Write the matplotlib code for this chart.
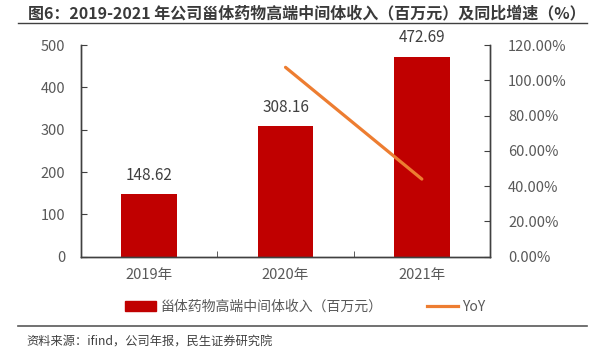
import matplotlib
matplotlib.use("Agg")
import matplotlib.pyplot as plt
from matplotlib.lines import Line2D
from matplotlib.patches import Patch

plt.rcParams["font.family"] = ["Noto Sans CJK SC", "DejaVu Sans"]

years = ["2019年", "2020年", "2021年"]
revenue = [148.62, 308.16, 472.69]
yoy_years = [1, 2]
yoy = [1.0735, 0.44]
left_ticks = [0, 100, 200, 300, 400, 500]
right_ticks = [0, 0.2, 0.4, 0.6, 0.8, 1.0, 1.2]

title = "图6：2019-2021 年公司甾体药物高端中间体收入（百万元）及同比增速（%）"
bar_name = "甾体药物高端中间体收入（百万元）"
line_name = "YoY"
source = "资料来源：ifind，公司年报，民生证券研究院"

RED = "#C00000"
ORANGE = "#ED7D31"
TICK_C = "#595959"
SPINE_C = "#404040"


def main():
    fig = plt.figure(figsize=(5.98, 3.55), dpi=100)
    ax = fig.add_axes([0.1355, 0.2769, 0.6839, 0.5963])
    ax2 = ax.twinx()

    x = list(range(len(years)))
    ax.bar(x, revenue, width=0.41, color=RED, zorder=2)
    for xi, v in zip(x, revenue):
        ax.annotate(f"{v:.2f}", (xi, v), xytext=(0, 13.5),
                    textcoords="offset points", ha="center", va="center",
                    fontsize=11, color="#404040")

    ax2.plot(yoy_years, yoy, color=ORANGE, lw=2.3, solid_capstyle="round")

    ax.set_xlim(-0.5, 2.5)
    ax.set_ylim(0, 500)
    ax2.set_ylim(0, 1.2)
    ax.set_yticks(left_ticks)
    ax.set_yticklabels([str(t) for t in left_ticks])
    ax2.set_yticks(right_ticks)
    ax2.set_yticklabels([f"{t * 100:.2f}%" for t in right_ticks])

    ax.set_xticks(x)
    ax.set_xticklabels(years)
    ax.set_xticks([-0.5, 0.5, 1.5, 2.5], minor=True)
    ax.tick_params(axis="x", which="major", length=0, pad=8,
                   labelsize=10.5, labelcolor=TICK_C)
    ax.tick_params(axis="x", which="minor", direction="in", length=4,
                   color=SPINE_C)
    ax.tick_params(axis="y", direction="in", length=4, color=SPINE_C,
                   pad=11.5, labelsize=10.5, labelcolor=TICK_C)
    ax2.tick_params(axis="y", direction="in", length=4, color=SPINE_C,
                    pad=13, labelsize=10.5, labelcolor=TICK_C)

    for a in (ax, ax2):
        a.spines["top"].set_visible(False)
        for s in ("left", "right", "bottom"):
            a.spines[s].set_color(SPINE_C)
            a.spines[s].set_linewidth(1.0)

    # title and rules
    fig.text(28 / 598, 1 - 13 / 355, title, fontsize=11.5, fontweight="bold",
             color="#3a3a3a", ha="left", va="center")
    fig.add_artist(Line2D([18 / 598, 587 / 598], [1 - 23 / 355, 1 - 23 / 355],
                          color="#404040", lw=1.0))
    fig.add_artist(Line2D([18 / 598, 587 / 598], [1 - 326 / 355, 1 - 326 / 355],
                          color="#595959", lw=1.2))
    fig.text(26.5 / 598, 1 - 342.5 / 355, source, fontsize=8.8, color="#404040",
             ha="left", va="center")

    handles = [Patch(facecolor=RED, edgecolor=RED),
               Line2D([0], [0], color=ORANGE, lw=2.3)]
    fig.legend(handles, [bar_name, line_name], loc="center",
               bbox_to_anchor=(305.5 / 598, 1 - 307 / 355), ncol=2,
               frameon=False, fontsize=10, labelcolor=TICK_C,
               handlelength=2.25, handleheight=0.75, handletextpad=0.3,
               columnspacing=3.2, borderpad=0, borderaxespad=0)

    fig.savefig("out.png", dpi=100)


if __name__ == "__main__":
    main()
